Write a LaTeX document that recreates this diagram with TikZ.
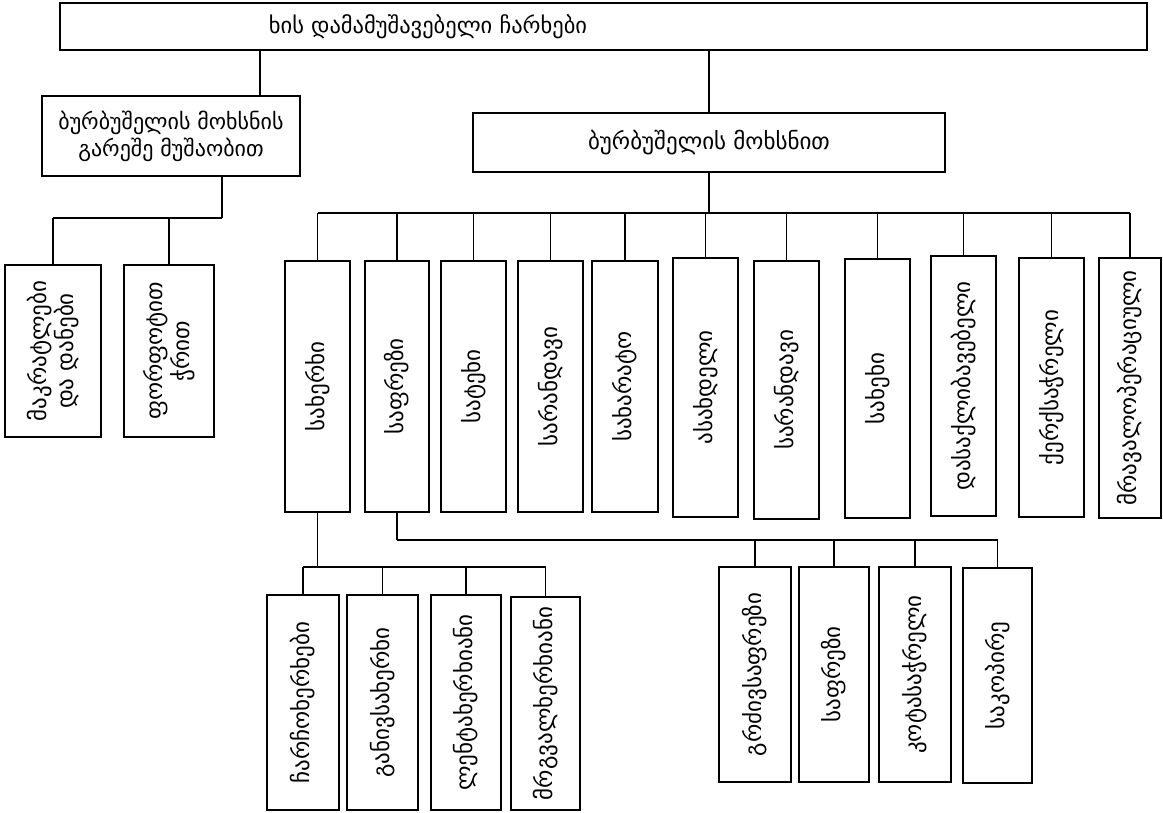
\documentclass[tikz,border=0pt]{standalone}
\usepackage{fontspec}
\setmainfont{DejaVu Sans}
\begin{document}
\begin{tikzpicture}[x=1pt,y=-1pt,
  box/.style={draw,line width=1.8pt,inner sep=0pt,align=center,font=\fontsize{22}{27}\selectfont},
  vbox/.style={box,rotate=90,font=\fontsize{23}{27}\selectfont},
  ln/.style={line width=1.5pt}]
\useasboundingbox (0,0) rectangle (1163,812);
% top
\node[box,minimum width=1087pt,minimum height=47pt] (top) at (603.5,26.5) {};
\node[font=\fontsize{22.5}{27}\selectfont,inner sep=0pt] (ttl) at (428,26.5) {ხის დამამუშავებელი ჩარხები};
\node[box,minimum width=258pt,minimum height=80pt] (lbox) at (171,136) {ბურბუშელის მოხსნის\\გარეშე მუშაობით};
\node[box,minimum width=472pt,minimum height=59pt,font=\fontsize{23}{27}\selectfont] (rbox) at (709,142.5) {ბურბუშელის მოხსნით};
\coordinate (tl) at (260,0);
\draw[ln] (top.south -| tl) -- (lbox.north -| tl);
\draw[ln] (top.south -| rbox.north) -- (rbox.north);
% left children
\node[vbox,minimum width=172pt,minimum height=96pt] (a1) at (53,351) {მაკრატლები\\და დანები};
\node[vbox,minimum width=172pt,minimum height=90pt] (a2) at (169,351) {ფორფოტით\\ჭრით};
\coordinate (lj) at (222,218);
\draw[ln] (lj |- lbox.south) -- (lj);
\draw[ln] (a1.east |- lj) -- (lj);
\draw[ln] (a1.east |- lj) -- (a1.east);
\draw[ln] (a2.east |- lj) -- (a2.east);
% right children
\node[vbox,minimum width=251pt,minimum height=65pt] (r1) at (317.5,386.5) {სახერხი};
\node[vbox,minimum width=251pt,minimum height=64pt] (r2) at (397,386.5) {საფრეზი};
\node[vbox,minimum width=251pt,minimum height=65pt] (r3) at (473.5,386.5) {სატეხი};
\node[vbox,minimum width=251pt,minimum height=65pt] (r4) at (550.5,386.5) {სარანდავი};
\node[vbox,minimum width=251pt,minimum height=66pt] (r5) at (625,386.5) {სახარატო};
\node[vbox,minimum width=259pt,minimum height=65pt] (r6) at (705.5,387.5) {ასახდელი};
\node[vbox,minimum width=258pt,minimum height=65pt] (r7) at (786.5,390) {სარანდავი};
\node[vbox,minimum width=259pt,minimum height=65pt] (r8) at (877.5,388.5) {სახეხი};
\node[vbox,minimum width=260pt,minimum height=65pt] (r9) at (963.5,386) {დასაქლიბავებელი};
\node[vbox,minimum width=259pt,minimum height=65pt] (r10) at (1051.5,387.5) {ქერქსაჭრელი};
\node[vbox,minimum width=260pt,minimum height=62pt] (r11) at (1130,388) {მრავალოპერაციული};
\coordinate (rj) at (0,213);
\draw[ln] (rbox.south) -- (rbox.south |- rj);
\draw[ln] (r1.east |- rj) -- (r11.east |- rj);
\foreach \n in {r1,r2,r3,r4,r5,r6,r7,r8,r9,r10,r11}
  \draw[ln] (\n.east |- rj) -- (\n.east);
% under r1
\node[vbox,minimum width=215pt,minimum height=72pt] (b1) at (303,702.5) {ჩარჩოხერხები};
\node[vbox,minimum width=215pt,minimum height=71pt] (b2) at (382.5,702.5) {განივსახერხი};
\node[vbox,minimum width=215pt,minimum height=70pt] (b3) at (466,702.5) {ლენტახერხიანი};
\node[vbox,minimum width=213pt,minimum height=69pt] (b4) at (545.5,703.5) {მრგვალხერხიანი};
\coordinate (bj) at (0,567);
\draw[ln] (r1.west) -- (r1.west |- bj);
\draw[ln] (b1.east |- bj) -- (b4.east |- bj);
\foreach \n in {b1,b2,b3,b4}
  \draw[ln] (\n.east |- bj) -- (\n.east);
% under r2
\node[vbox,minimum width=215pt,minimum height=72pt] (c1) at (755,674.5) {გრძივსაფრეზი};
\node[vbox,minimum width=215pt,minimum height=70pt] (c2) at (834,674.5) {საფრეზი};
\node[vbox,minimum width=215pt,minimum height=72pt] (c3) at (915,674.5) {კოტასაჭრელი};
\node[vbox,minimum width=215pt,minimum height=69pt] (c4) at (997.5,675.5) {საკოპირე};
\coordinate (cj) at (0,540);
\draw[ln] (r2.west) -- (r2.west |- cj);
\draw[ln] (r2.west |- cj) -- (c4.east |- cj);
\foreach \n in {c1,c2,c3,c4}
  \draw[ln] (\n.east |- cj) -- (\n.east);
\end{tikzpicture}
\end{document}
